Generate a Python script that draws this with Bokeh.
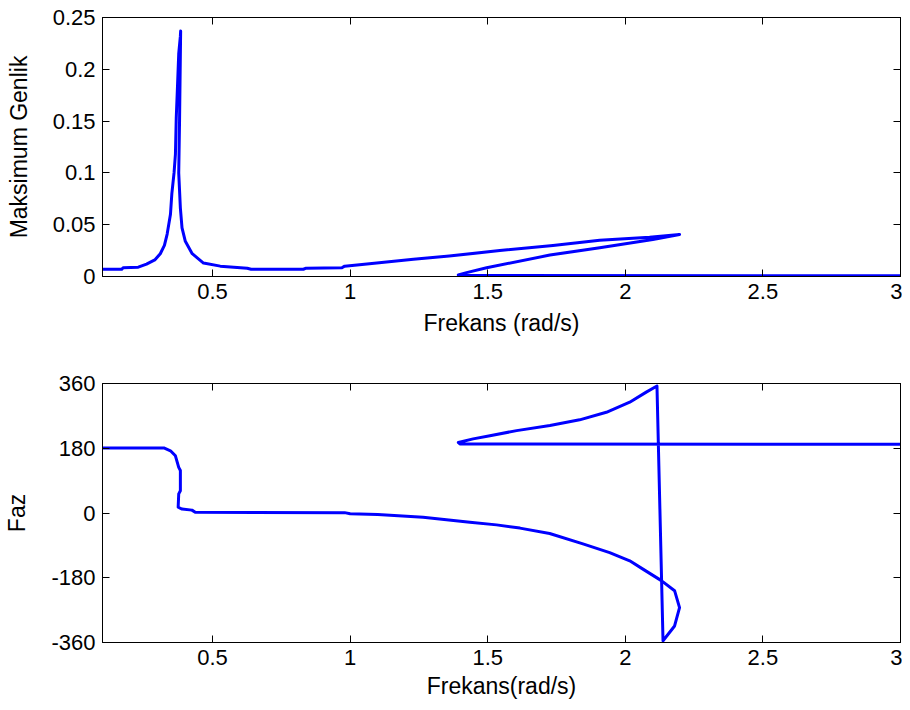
from bokeh.plotting import figure
from bokeh.layouts import column
from bokeh.models import LinearAxis, FixedTicker, Range1d
from bokeh.embed import file_html
from bokeh.resources import INLINE

# ---- data ----
amp_w = [0.10, 0.17, 0.175, 0.23, 0.26, 0.29, 0.31, 0.325, 0.335, 0.347, 0.352, 0.36,
         0.365, 0.368, 0.372, 0.377, 0.383, 0.384, 0.38, 0.377, 0.383, 0.389, 0.401,
         0.426, 0.467, 0.528, 0.626, 0.64, 0.83, 0.84, 0.97, 0.98, 1.07, 1.23, 1.36,
         1.544, 1.737, 1.907, 2.088, 2.197, 2.10, 1.907, 1.726, 1.496, 1.423, 1.393,
         1.45, 3.0]
amp = [0.007, 0.007, 0.0085, 0.009, 0.012, 0.016, 0.022, 0.030, 0.041, 0.060, 0.080, 0.100,
       0.118, 0.153, 0.180, 0.215, 0.232, 0.237, 0.150, 0.100, 0.066, 0.047, 0.034,
       0.022, 0.013, 0.010, 0.008, 0.007, 0.007, 0.008, 0.0085, 0.010, 0.0123, 0.0166, 0.0197,
       0.025, 0.030, 0.0349, 0.038, 0.0406, 0.0358, 0.0277, 0.0207, 0.0085, 0.0037, 0.0014,
       0.0009, 0.0008]

ph_w = [0.10, 0.323, 0.347, 0.365, 0.377, 0.383, 0.383, 0.377, 0.375, 0.389, 0.425, 0.437,
        0.98, 1.0, 1.1, 1.265, 1.35, 1.435, 1.532, 1.617, 1.725, 1.846, 1.943, 2.016,
        2.064, 2.131, 2.179, 2.197, 2.179, 2.137, 2.115, 2.076, 2.016, 1.931, 1.834,
        1.726, 1.605, 1.508, 1.447, 1.393, 1.40, 3.0]
ph = [181, 181, 173, 159, 127, 118, 62, 53, 16, 11, 8, 2,
      1, -2, -4, -12, -18.6, -26, -33, -42, -57, -86, -110, -133,
      -156, -188, -216, -263, -314, -355, 353, 336, 308, 280, 259,
      243, 229, 215, 206, 196, 192, 191]

x_ticks = [0.5, 1, 1.5, 2, 2.5, 3]
x_tick_labels = ["0.5", "1", "1.5", "2", "2.5", "3"]
amp_ticks = [0, 0.05, 0.1, 0.15, 0.2, 0.25]
amp_tick_labels = ["0", "0.05", "0.1", "0.15", "0.2", "0.25"]
ph_ticks = [-360, -180, 0, 180, 360]
ph_tick_labels = ["-360", "-180", "0", "180", "360"]

FONT = "Liberation Sans"
TICK_FS = "22px"
LABEL_FS = "23px"
BLUE = "#0000FF"


def style_axis(ax, ticks, labels=None, show_labels=True):
    ax.ticker = FixedTicker(ticks=ticks)
    ax.major_tick_in = 7
    ax.major_tick_out = 0
    ax.minor_tick_line_color = None
    ax.axis_line_color = "black"
    ax.axis_line_width = 1
    ax.major_tick_line_color = "black"
    if show_labels:
        ax.major_label_overrides = {t: l for t, l in zip(ticks, labels)}
        ax.major_label_text_font = FONT
        ax.major_label_text_font_size = TICK_FS
        ax.major_label_text_color = "black"
        ax.major_label_standoff = 7
        ax.axis_label_text_font = FONT
        ax.axis_label_text_font_size = LABEL_FS
        ax.axis_label_text_font_style = "normal"
        ax.axis_label_text_color = "black"
    else:
        ax.major_label_overrides = {t: "" for t in ticks}
        ax.major_label_text_font_size = "1px"
        ax.major_label_standoff = 0


def make_fig(height, top_border, bottom_border, yr, yticks, ylabels, xlabel, ylabel, xs, ys,
             xlab_standoff):
    p = figure(width=902, height=height, output_backend="svg", toolbar_location=None,
               x_range=Range1d(0.1, 3.0), y_range=Range1d(*yr),
               min_border_left=102, min_border_right=2,
               min_border_top=top_border, min_border_bottom=bottom_border,
               x_axis_label=xlabel, y_axis_label=ylabel)
    p.grid.visible = False
    p.outline_line_color = "black"
    p.background_fill_color = "white"
    p.border_fill_color = "white"
    style_axis(p.xaxis[0], x_ticks, x_tick_labels)
    style_axis(p.yaxis[0], yticks, ylabels)
    p.xaxis[0].axis_label_standoff = xlab_standoff
    p.yaxis[0].axis_label_standoff = 18
    top_ax = LinearAxis()
    style_axis(top_ax, x_ticks, show_labels=False)
    right_ax = LinearAxis()
    style_axis(right_ax, yticks, show_labels=False)
    p.add_layout(top_ax, "above")
    p.add_layout(right_ax, "right")
    p.line(xs, ys, line_color=BLUE, line_width=3, line_join="round", line_cap="round")
    return p


p1 = make_fig(350, 17, 74, (0, 0.25), amp_ticks, amp_tick_labels,
              "Frekans (rad/s)", "Maksimum Genlik", amp_w, amp, 8)
p2 = make_fig(352, 33, 60, (-360, 360), ph_ticks, ph_tick_labels,
              "Frekans(rad/s)", "Faz", ph_w, ph, 5)

layout = column(p1, p2, spacing=0)
open("out.html", "w").write(file_html(layout, INLINE))
